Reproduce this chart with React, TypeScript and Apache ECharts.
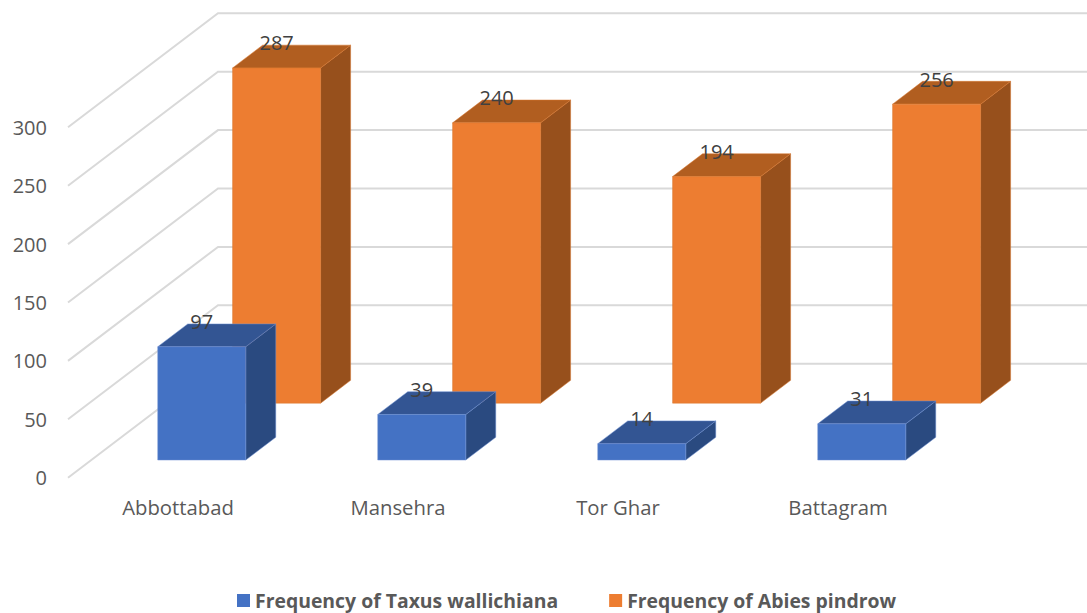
import React, { useEffect, useRef } from "react";
import * as echarts from "echarts";

const categories = ["Abbottabad", "Mansehra", "Tor Ghar", "Battagram"];
const taxusValues = [97, 39, 14, 31];
const abiesValues = [287, 240, 194, 256];
const yTicks = [0, 50, 100, 150, 200, 250, 300];

const FONT = "'Open Sans', sans-serif";
const DEPTH_X = 150;
const DEPTH_Y = 114;

function barRenderer(depthFront: number, depthBack: number, colors: { front: string; edge: string; top: string; side: string }) {
  return (params: any, api: any) => {
    const cat = api.value(0);
    const val = api.value(1);
    const base = api.coord([cat, 0]);
    const head = api.coord([cat, val]);
    const w = api.size([1, 0])[0] * 0.4;
    const fx = base[0] + depthFront * DEPTH_X - w / 2 + 0.5;
    const fyBase = base[1] - depthFront * DEPTH_Y;
    const fyTop = head[1] - depthFront * DEPTH_Y;
    const dx = (depthBack - depthFront) * DEPTH_X;
    const dy = (depthBack - depthFront) * DEPTH_Y;
    return {
      type: "group",
      children: [
        {
          type: "polygon",
          shape: { points: [[fx + w, fyTop], [fx + w + dx, fyTop - dy], [fx + w + dx, fyBase - dy], [fx + w, fyBase]] },
          style: { fill: colors.side, stroke: colors.edge, lineWidth: 0.5 },
        },
        {
          type: "polygon",
          shape: { points: [[fx, fyTop], [fx + dx, fyTop - dy], [fx + w + dx, fyTop - dy], [fx + w, fyTop]] },
          style: { fill: colors.top, stroke: colors.edge, lineWidth: 0.5 },
        },
        {
          type: "rect",
          shape: { x: fx, y: fyTop, width: w, height: fyBase - fyTop },
          style: { fill: colors.front, stroke: colors.edge, lineWidth: 0.5 },
        },
        {
          type: "text",
          x: fx + w / 2,
          y: fyTop - 25,
          style: {
            text: String(val),
            fill: "#404040",
            fontSize: 20,
            fontFamily: FONT,
            align: "center",
            verticalAlign: "middle",
          },
        },
      ],
    };
  };
}

export default function App() {
  const ref = useRef<HTMLDivElement>(null);
  useEffect(() => {
    document.body.style.margin = "0";
    const chart = echarts.init(ref.current!, null, { renderer: "svg" });
    chart.setOption({
      animation: false,
      backgroundColor: "#ffffff",
      grid: { left: 68, right: 139, top: 127.3, bottom: 135.3 },
      legend: {
        left: 237,
        top: 591,
        padding: 0,
        itemWidth: 13,
        itemHeight: 13,
        itemGap: 51,
        icon: "rect",
        data: ["Frequency of Taxus wallichiana", "Frequency of Abies pindrow"],
        textStyle: { color: "#595959", fontSize: 19.4, fontWeight: "bold", fontFamily: FONT },
      },
      xAxis: {
        type: "category",
        data: categories,
        axisLine: { show: false },
        axisTick: { show: false },
        axisLabel: { color: "#595959", fontSize: 20.3, fontFamily: FONT, margin: 19 },
      },
      yAxis: {
        type: "value",
        min: 0,
        max: 300,
        interval: 50,
        splitLine: { show: false },
        axisLine: { show: false },
        axisTick: { show: false },
        axisLabel: { color: "#595959", fontSize: 20, fontFamily: FONT, margin: 21 },
      },
      series: [
        {
          type: "custom",
          name: "grid",
          z: 1,
          silent: true,
          data: yTicks.map((t) => [0, t]),
          encode: { x: 0, y: 1 },
          renderItem: (params: any, api: any) => {
            const cs = params.coordSys;
            const y = api.coord([0, api.value(1)])[1];
            return {
              type: "polyline",
              shape: {
                points: [
                  [cs.x, y],
                  [cs.x + DEPTH_X, y - DEPTH_Y],
                  [cs.x + cs.width + DEPTH_X, y - DEPTH_Y],
                ],
              },
              style: { fill: "none", stroke: "#D9D9D9", lineWidth: 2 },
            };
          },
        },
        {
          type: "custom",
          name: "Frequency of Abies pindrow",
          z: 2,
          itemStyle: { color: "#ED7D31" },
          data: abiesValues.map((v, i) => [i, v]),
          encode: { x: 0, y: 1 },
          renderItem: barRenderer(0.654, 0.854, { front: "#ED7D31", edge: "#D9772F", top: "#B15E20", side: "#97501C" }),
        },
        {
          type: "custom",
          name: "Frequency of Taxus wallichiana",
          z: 3,
          itemStyle: { color: "#4472C4" },
          data: taxusValues.map((v, i) => [i, v]),
          encode: { x: 0, y: 1 },
          renderItem: barRenderer(0.155, 0.355, { front: "#4472C4", edge: "#6C8FD0", top: "#335593", side: "#2A4A80" }),
        },
      ],
    });
    return () => chart.dispose();
  }, []);
  return <div ref={ref} style={{ width: 1087, height: 613 }} />;
}
